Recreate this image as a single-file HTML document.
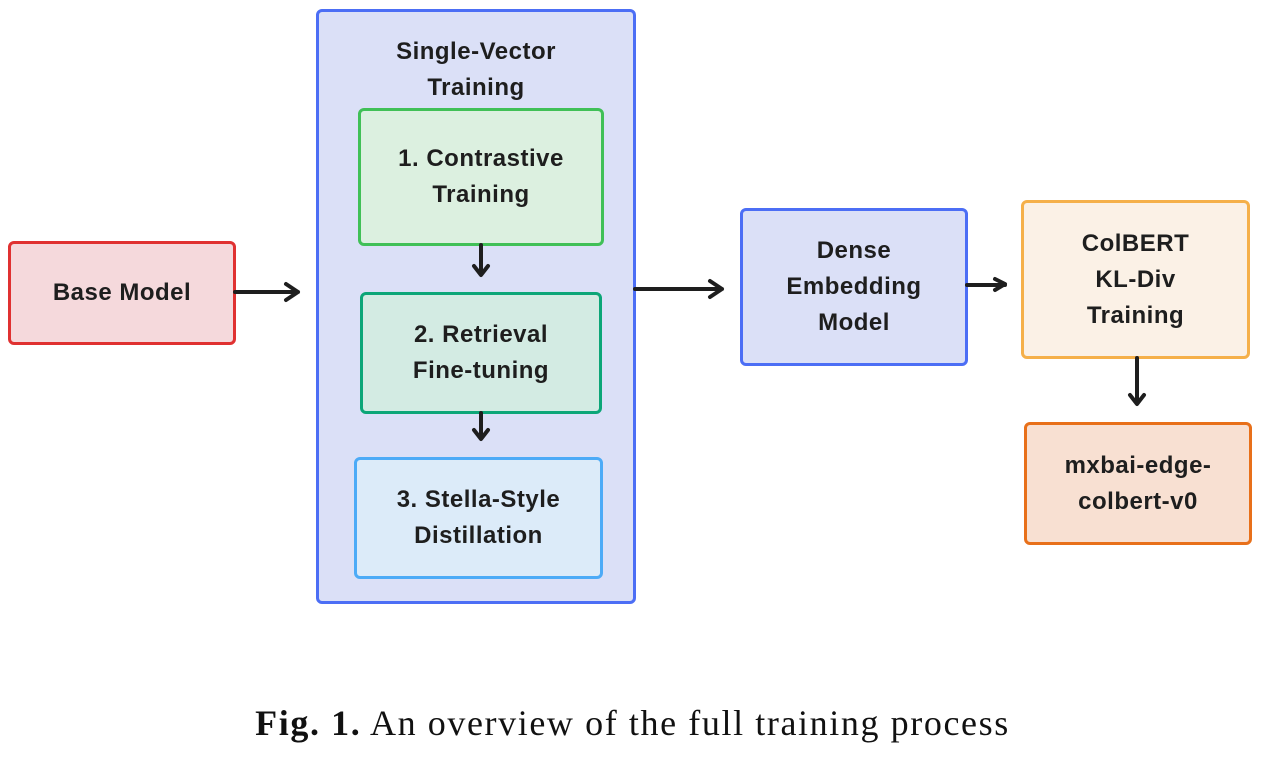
<!DOCTYPE html>
<html><head><meta charset="utf-8"><style>
body{margin:0;width:1265px;height:757px;background:#fff;position:relative;overflow:hidden;font-family:"Liberation Sans",sans-serif}
.b{position:absolute;box-sizing:border-box;border-radius:6px;border:3px solid;display:flex;align-items:center;justify-content:center;text-align:center;font-weight:bold;font-size:24px;line-height:36px;color:#1e1e1e;letter-spacing:0.5px}
.cap{position:absolute;left:0;width:1265px;top:702px;text-align:center;font-family:"Liberation Serif",serif;font-size:36px;letter-spacing:1.6px;color:#111}
svg{position:absolute;left:0;top:0}
</style></head><body>
<div class="b" style="left:316px;top:9px;width:320px;height:595px;border-color:#4c6ef5;background:#dbe0f7;align-items:flex-start;padding-top:22px">Single-Vector<br>Training</div>
<div class="b" style="left:8px;top:241px;width:228px;height:104px;border-color:#e03131;background:#f5d9dc">Base Model</div>
<div class="b" style="left:358px;top:108px;width:246px;height:138px;border-color:#40c057;background:#dcf0e0">1. Contrastive<br>Training</div>
<div class="b" style="left:360px;top:292px;width:242px;height:122px;border-color:#0ca678;background:#d3ebe3">2. Retrieval<br>Fine-tuning</div>
<div class="b" style="left:354px;top:457px;width:249px;height:122px;border-color:#4dabf7;background:#dcebf9">3. Stella-Style<br>Distillation</div>
<div class="b" style="left:740px;top:208px;width:228px;height:158px;border-color:#4c6ef5;background:#dbe0f7">Dense<br>Embedding<br>Model</div>
<div class="b" style="left:1021px;top:200px;width:229px;height:159px;border-color:#f5b04a;background:#fbf1e6">ColBERT<br>KL-Div<br>Training</div>
<div class="b" style="left:1024px;top:422px;width:228px;height:123px;border-color:#e8701a;background:#f8e0d2">mxbai-edge-<br>colbert-v0</div>
<svg width="1265" height="757" fill="none" stroke="#1e1e1e" stroke-width="4" stroke-linecap="round" stroke-linejoin="round">
<path d="M235 292H298M286 284L298 292L286 300"/>
<path d="M481 245V274M474 266L481 275L488 266"/>
<path d="M481 413V438M474 430L481 439L488 430"/>
<path d="M635 289H722M710 281L722 289L710 297"/>
<path d="M967 285H1005M995 279L1005 284L995 290"/>
<path d="M1137 358V403M1130 395L1137 404L1144 395"/>
</svg>
<div class="cap"><b>Fig. 1.</b> An overview of the full training process</div>
</body></html>
